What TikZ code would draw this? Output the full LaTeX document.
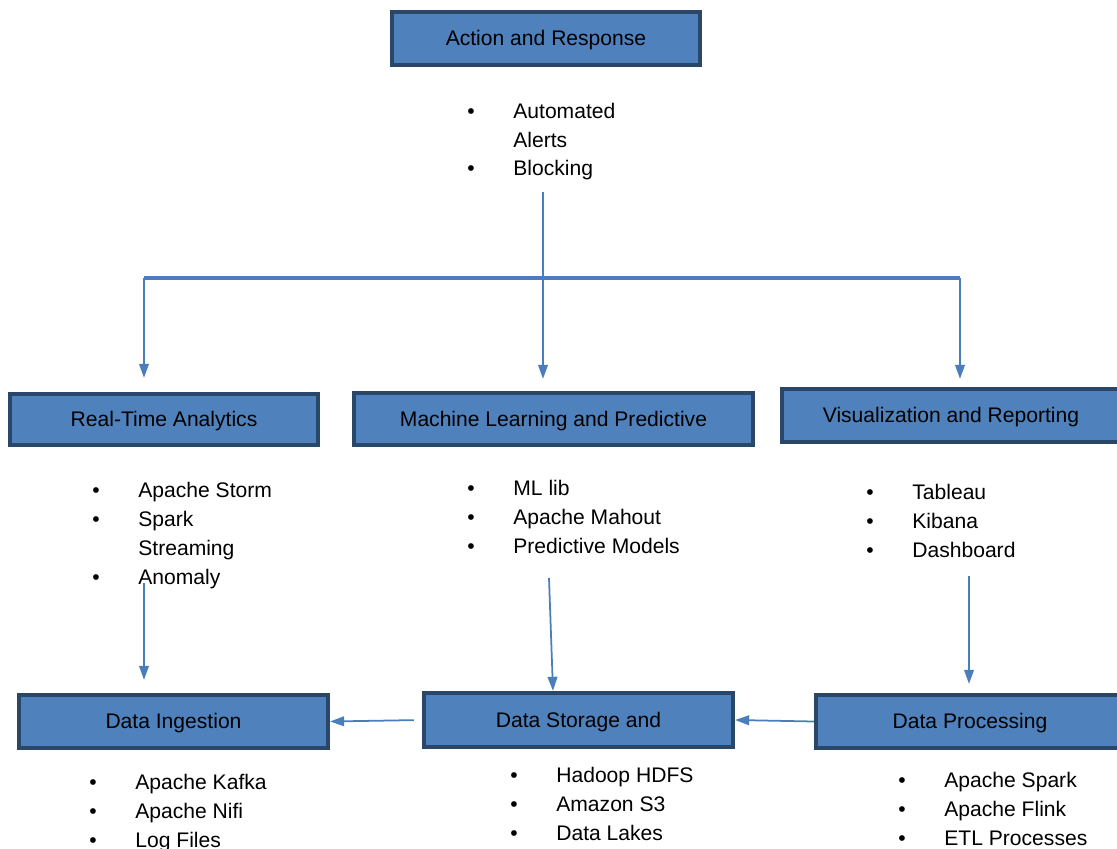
\documentclass[tikz,border=0pt]{standalone}
\usepackage{fontspec}
\setmainfont{Liberation Sans}
\usetikzlibrary{
    arrows.meta,
    positioning,
    calc,
}

\definecolor{boxfill}{HTML}{4F81BD}
\definecolor{boxline}{HTML}{2A4668}
\definecolor{flowblue}{HTML}{4A7EBB}

\newcommand{\bitem}[1]{\makebox[0.92cm][l]{\textbullet}#1}
\newcommand{\bcont}[1]{\hspace*{0.92cm}#1}

\begin{document}
\begin{tikzpicture}[
    stage/.style={draw=boxline, line width=2.4pt, fill=boxfill, text=black, align=center,
                inner sep=0pt, text depth=0.1ex, font=\fontsize{12}{16.5}\selectfont},
    items/.style={align=left, inner sep=0pt, anchor=base west,
                font=\fontsize{12}{16.5}\selectfont},
    flow/.style={draw=flowblue, line width=1pt, -{Triangle[length=8pt,width=5.5pt]}},
]
\useasboundingbox (0,0) rectangle (22.34,-16.98);

% Action and Response
\node[stage, minimum width=6.16cm, minimum height=1.06cm] (Action) at (10.92,-0.77) {Action and Response};
\node[items] (ActionList) at (9.34,-3.52) {\bitem{Automated}\\\bcont{Alerts}\\\bitem{Blocking}};

% Real-Time Analytics
\node[stage, minimum width=6.16cm, minimum height=1.02cm] (Realtime) at (3.28,-8.39) {Real-Time Analytics};
\node[items] (RealtimeList) at (1.84,-11.68) {\bitem{Apache Storm}\\\bitem{Spark}\\\bcont{Streaming}\\\bitem{Anomaly}};

% Machine Learning
\node[stage, minimum width=7.98cm, minimum height=1.04cm] (Learning) at (11.07,-8.38) {Machine Learning and Predictive};
\node[items] (LearningList) at (9.34,-11.06) {\bitem{ML lib}\\\bitem{Apache Mahout}\\\bitem{Predictive Models}};

% Visualization
\node[stage, minimum width=6.76cm, minimum height=1.06cm] (Visual) at (19.02,-8.31) {Visualization and Reporting};
\node[items] (VisualList) at (17.32,-11.14) {\bitem{Tableau}\\\bitem{Kibana}\\\bitem{Dashboard}};

% Data Ingestion
\node[stage, minimum width=6.18cm, minimum height=1.06cm] (Ingestion) at (3.47,-14.43) {Data Ingestion};
\node[items] (IngestionList) at (1.78,-16.94) {\bitem{Apache Kafka}\\\bitem{Apache Nifi}\\\bitem{Log Files}};

% Data Storage
\node[stage, minimum width=6.18cm, minimum height=1.08cm] (Storage) at (11.57,-14.40) {Data Storage and};
\node[items] (StorageList) at (10.20,-16.80) {\bitem{Hadoop HDFS}\\\bitem{Amazon S3}\\\bitem{Data Lakes}};

% Data Processing
\node[stage, minimum width=6.16cm, minimum height=1.06cm] (Processing) at (19.40,-14.43) {Data Processing};
\node[items] (ProcessingList) at (17.96,-16.90) {\bitem{Apache Spark}\\\bitem{Apache Flink}\\\bitem{ETL Processes}};

% Branch points
\coordinate (ActionOut) at (10.86,-3.84);
\coordinate (Split) at (10.86,-5.56);
\coordinate (SplitLeft) at (2.88,-5.56);
\coordinate (SplitRight) at (19.20,-5.56);
\coordinate (RealtimeOut) at (2.88,-11.66);
\coordinate (LearningOut) at (10.98,-11.56);
\coordinate (VisualOut) at (19.38,-11.52);

% Lines
\draw[draw=flowblue, line width=1.4pt] (ActionOut) -- (Split);
\draw[draw=flowblue, line width=2.2pt] (SplitLeft) -- (SplitRight);
\draw[flow, shorten >=0.28cm] (SplitLeft) -- (SplitLeft |- Realtime.north);
\draw[flow, shorten >=0.24cm] (Split) -- (Split |- Learning.north);
\draw[flow, shorten >=0.16cm] (SplitRight) -- (SplitRight |- Visual.north);
\draw[flow, shorten >=0.26cm] (RealtimeOut) -- (RealtimeOut |- Ingestion.north);
\draw[flow] (LearningOut) -- ([xshift=-0.51cm]Storage.north);
\draw[flow, shorten >=0.18cm] (VisualOut) -- (VisualOut |- Processing.north);
\draw[flow, shorten <=0.16cm] (Storage.west) -- (Ingestion.east);
\draw[flow] (Processing.west) -- (Storage.east);

\end{tikzpicture}
\end{document}
